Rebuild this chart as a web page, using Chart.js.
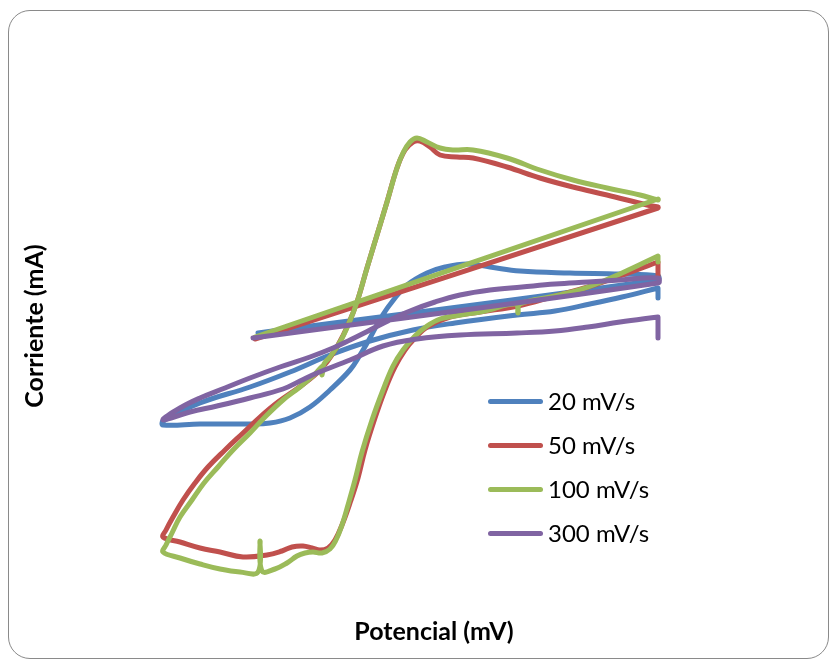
<!DOCTYPE html>
<html>
<head>
<meta charset="utf-8">
<script src="https://cdn.jsdelivr.net/npm/chart.js@4.4.1/dist/chart.umd.min.js"></script>
<style>
  html, body { margin: 0; padding: 0; background: #ffffff; }
  #wrap { position: relative; width: 832px; height: 662px; overflow: hidden; }
  #frame {
    position: absolute; left: 8px; top: 10px; width: 821px; height: 649px;
    box-sizing: border-box; border: 1.5px solid #8a8a8a; border-radius: 22px;
  }
  #c { position: absolute; left: 0; top: 0; }
  #legend {
    position: absolute; left: 488px; top: 379px;
    font-family: Lato, "Open Sans", sans-serif; font-size: 24px; color: #000;
  }
  .row { height: 44px; line-height: 44px; display: flex; align-items: center; white-space: nowrap; }
  .sw { width: 55px; height: 5px; border-radius: 3px; margin-right: 5px; }
</style>
</head>
<body>
<div id="wrap">
  <div id="frame"></div>
  <canvas id="c" width="832" height="662"></canvas>
  <div id="legend"></div>
</div>
<script>
// ---- Data (potential in mV, current in mA) ----
const seriesLabels = ["20 mV/s", "50 mV/s", "100 mV/s", "300 mV/s"];

const potencial20 = [-10,790,790,714,614,514,454,408,364,328,288,264,238,214,194,174,134,94,54,14,-26,-126,-200,-200,-126,-26,54,134,214,300,384,508,584,654,718,790,790,790];
const corriente20 = [0.67,1.20,1.24,1.26,1.27,1.29,1.33,1.36,1.33,1.27,1.15,1.02,0.84,0.62,0.45,0.30,0.10,-0.07,-0.18,-0.23,-0.24,-0.24,-0.25,-0.21,-0.03,0.13,0.28,0.45,0.59,0.70,0.77,0.85,0.89,0.96,1.03,1.12,1.12,1.02];

const potencial50 = [-16,790,790,768,688,620,554,488,420,388,354,334,314,300,284,268,248,228,208,188,170,150,128,104,70,30,-6,-40,-76,-110,-136,-160,-180,-194,-200,
  -166,-126,-86,-40,8,38,58,80,98,114,130,144,158,174,190,204,224,244,264,284,304,328,374,434,510,584,650,714,790,790,790];
const corriente50 = [0.61,1.92,1.93,1.95,2.05,2.13,2.22,2.33,2.42,2.43,2.45,2.53,2.59,2.58,2.50,2.32,1.98,1.65,1.32,0.98,0.75,0.55,0.38,0.25,0.12,-0.02,-0.17,-0.33,-0.50,-0.67,-0.83,-1.00,-1.17,-1.30,-1.37,
  -1.42,-1.48,-1.52,-1.57,-1.55,-1.51,-1.47,-1.46,-1.48,-1.50,-1.48,-1.40,-1.25,-1.03,-0.78,-0.50,-0.18,0.10,0.33,0.50,0.62,0.73,0.83,0.88,0.94,1.04,1.13,1.24,1.38,1.38,1.24];

const potencial100 = [-16,790,790,754,688,620,554,488,420,380,354,328,308,294,280,268,248,228,208,188,172,154,134,122,118,120,102,74,40,4,-26,-60,-90,-118,-142,-166,-182,-194,-200,
  -166,-126,-86,-46,-10,-6,-2,24,48,68,84,100,118,134,146,158,170,184,198,218,240,260,280,304,328,354,384,444,506,510,514,584,650,718,790,790,790];
const corriente100 = [0.63,2.01,2.00,2.05,2.12,2.20,2.30,2.42,2.50,2.50,2.52,2.58,2.62,2.58,2.47,2.32,1.98,1.65,1.32,0.98,0.77,0.58,0.43,0.36,0.25,0.34,0.25,0.13,0.00,-0.17,-0.33,-0.50,-0.67,-0.83,-1.00,-1.17,-1.33,-1.45,-1.52,
  -1.58,-1.64,-1.69,-1.72,-1.72,-1.41,-1.71,-1.69,-1.63,-1.56,-1.53,-1.52,-1.53,-1.49,-1.40,-1.25,-1.05,-0.80,-0.52,-0.20,0.10,0.34,0.50,0.64,0.74,0.81,0.84,0.89,0.96,0.87,0.96,1.04,1.13,1.27,1.44,1.44,1.38];

const potencial300 = [-20,790,790,714,650,584,518,454,394,344,294,254,214,174,140,94,34,-26,-76,-126,-166,-200,
  -146,-92,-26,40,74,108,174,240,308,394,508,584,650,714,790,790,790];
const corriente300 = [0.62,1.17,1.22,1.20,1.18,1.16,1.13,1.10,1.05,0.98,0.89,0.80,0.70,0.60,0.52,0.43,0.33,0.22,0.12,0.02,-0.08,-0.20,
  -0.12,-0.06,0.02,0.11,0.19,0.27,0.40,0.54,0.61,0.65,0.67,0.69,0.73,0.78,0.83,0.83,0.62];

// ---- Styles ----
const seriesColors = ["#4F81BD", "#C0504D", "#9BBB59", "#8064A2"];
const drawOrder = [4, 3, 2, 1]; // purple on top, blue at bottom

function pts(xs, ys) { return xs.map((x, i) => ({ x: x, y: ys[i] })); }
const seriesData = [
  pts(potencial20, corriente20),
  pts(potencial50, corriente50),
  pts(potencial100, corriente100),
  pts(potencial300, corriente300)
];

const datasets = seriesLabels.map((label, i) => ({
  label: label,
  data: seriesData[i],
  showLine: true,
  borderColor: seriesColors[i],
  backgroundColor: seriesColors[i],
  borderWidth: 5,
  pointRadius: 0,
  pointHoverRadius: 0,
  tension: 0.4,
  borderCapStyle: 'round',
  borderJoinStyle: 'round',
  fill: false,
  order: drawOrder[i]
}));

const titleFont = { family: 'Lato', size: 25, weight: 'bold', lineHeight: '24px' };

new Chart(document.getElementById('c'), {
  type: 'scatter',
  data: { datasets: datasets },
  options: {
    responsive: false,
    animation: false,
    devicePixelRatio: 1,
    layout: { padding: { left: 23, right: 64, top: 60, bottom: 18 } },
    plugins: { legend: { display: false }, tooltip: { enabled: false } },
    scales: {
      x: {
        type: 'linear', min: -326, max: 1010,
        grid: { display: false, drawTicks: false, tickLength: 0 }, border: { display: false },
        ticks: { display: false },
        title: { display: true, text: 'Potencial (mV)', color: '#000', font: titleFont, padding: { top: 28, bottom: 0 } }
      },
      y: {
        type: 'linear', min: -1.92, max: 3.4,
        grid: { display: false, drawTicks: false, tickLength: 0 }, border: { display: false },
        ticks: { display: false },
        title: { display: true, text: 'Corriente (mA)', color: '#000', font: titleFont, padding: { top: 0, bottom: 53 } }
      }
    }
  }
});

// HTML legend built from the series labels and colours
const legend = document.getElementById('legend');
seriesLabels.forEach((label, i) => {
  const row = document.createElement('div');
  row.className = 'row';
  const sw = document.createElement('div');
  sw.className = 'sw';
  sw.style.background = seriesColors[i];
  const tx = document.createElement('span');
  tx.textContent = label;
  row.appendChild(sw);
  row.appendChild(tx);
  legend.appendChild(row);
});
</script>
</body>
</html>
